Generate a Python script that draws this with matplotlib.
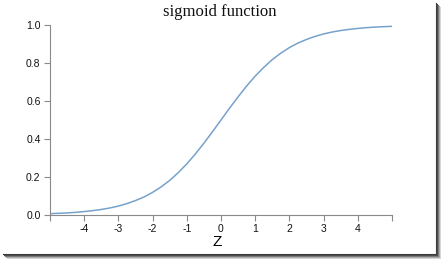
import matplotlib

matplotlib.use("Agg")
import matplotlib.pyplot as plt
from matplotlib.lines import Line2D

# values
z = [
    -5.0, -4.75, -4.5, -4.25, -4.0, -3.75, -3.5, -3.25, -3.0, -2.75, -2.5,
    -2.25, -2.0, -1.75, -1.5, -1.25, -1.0, -0.75, -0.5, -0.25, 0.0,
    0.25, 0.5, 0.75, 1.0, 1.25, 1.5, 1.75, 2.0, 2.25, 2.5,
    2.75, 3.0, 3.25, 3.5, 3.75, 4.0, 4.25, 4.5, 4.75, 5.0,
]
sig = [
    0.007, 0.009, 0.011, 0.014, 0.018, 0.023, 0.029, 0.037, 0.047, 0.060, 0.076,
    0.095, 0.119, 0.148, 0.182, 0.223, 0.269, 0.321, 0.378, 0.438, 0.500,
    0.562, 0.622, 0.679, 0.731, 0.777, 0.818, 0.852, 0.881, 0.905, 0.924,
    0.940, 0.953, 0.963, 0.971, 0.977, 0.982, 0.986, 0.989, 0.991, 0.993,
]
x_ticks = [-4, -3, -2, -1, 0, 1, 2, 3, 4]
y_ticks = [0.0, 0.2, 0.4, 0.6, 0.8, 1.0]

W, H = 441, 259
fig = plt.figure(figsize=(W / 100, H / 100), dpi=100)
ax = fig.add_axes([50 / W, 1 - 215 / H, 342 / W, 190 / H])

ax.plot(z, sig, color="#76a2cc", lw=1.1, solid_capstyle="round")

ax.set_xlim(-5, 5)
ax.set_ylim(0, 1)
ax.set_xticks(x_ticks)
ax.set_xticklabels([str(t) for t in x_ticks])
ax.set_xticks([-5, 5], minor=True)
ax.set_yticks(y_ticks)
ax.set_yticklabels([f"{t:.1f}" for t in y_ticks])

for side in ("top", "right"):
    ax.spines[side].set_visible(False)
for side in ("left", "bottom"):
    ax.spines[side].set_color("#8a8a8a")
    ax.spines[side].set_linewidth(0.8)

ax.tick_params(which="both", direction="out", length=4.3, width=0.8, color="#8a8a8a",
               labelsize=7.5, labelcolor="#111111")
ax.tick_params(axis="x", pad=2)
ax.tick_params(axis="y", pad=2.5)
for lbl in ax.get_xticklabels() + ax.get_yticklabels():
    lbl.set_family("Liberation Sans")

fig.text(220 / W, 1 - 12 / H, "sigmoid function", ha="center", va="center",
         family="Liberation Serif", fontsize=12, color="#111111")
fig.text(217 / W, 1 - 242 / H, "Z", ha="center", va="center",
         family="Liberation Sans", fontsize=11, color="#000000")

# screenshot frame with shadow on right and bottom
for off, col in [(0, "#3c3c3c"), (1, "#4a4a4a"), (2, "#7a7a7a"), (3, "#a8a8a8"), (4, "#d6d6d6")]:
    xr = (436 + off) / W
    yb = 1 - (254 + off) / H
    fig.add_artist(Line2D([xr, xr], [1 - (3 + off) / H, yb], transform=fig.transFigure,
                          color=col, lw=0.8))
    fig.add_artist(Line2D([(3 + off) / W, xr], [yb, yb], transform=fig.transFigure,
                          color=col, lw=0.8))

fig.savefig("out.png", dpi=100, facecolor="white")
